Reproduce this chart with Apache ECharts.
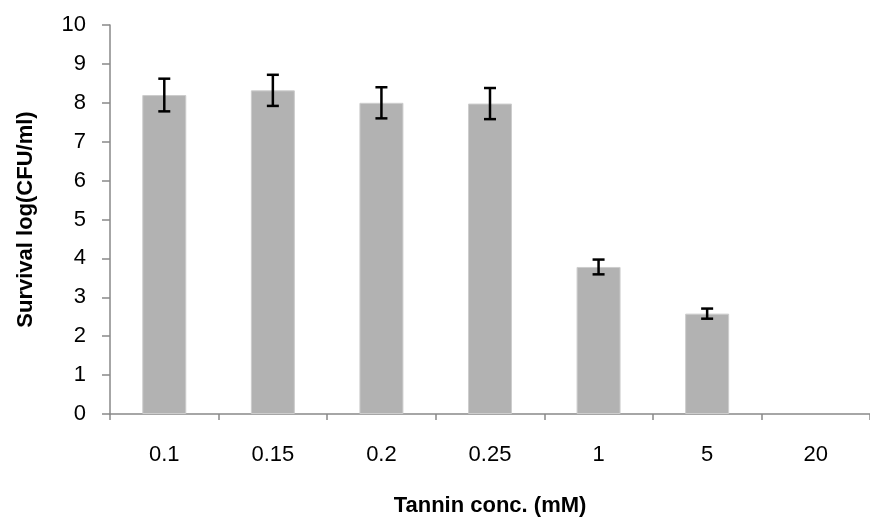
<!DOCTYPE html>
<html>
<head>
<meta charset="utf-8">
<script src="https://cdn.jsdelivr.net/npm/echarts@6/dist/echarts.min.js"></script>
<style>html,body{margin:0;padding:0;background:#fff}#c{width:870px;height:522px}</style>
</head>
<body>
<div id="c"></div>
<script>
var categories = ['0.1', '0.15', '0.2', '0.25', '1', '5', '20'];
var survival = [8.2, 8.32, 8.0, 7.98, 3.78, 2.58, 0];
var errors = [0.42, 0.4, 0.4, 0.4, 0.19, 0.13, 0];
var yTicks = [0, 10, 1];

var chart = echarts.init(document.getElementById('c'));
var font = '"Liberation Sans", Arial, sans-serif';
var errData = survival.map(function (v, i) { return [i, v - errors[i], v + errors[i]]; });
var barData = survival.map(function (v) {
  return v > 0 ? v : { value: v, itemStyle: { borderWidth: 0 } };
});

chart.setOption({
  animation: false,
  grid: { left: 110, top: 25, width: 770, bottom: 104 },
  xAxis: {
    type: 'category',
    data: categories,
    boundaryGap: true,
    name: 'Tannin conc. (mM)',
    nameLocation: 'middle',
    nameGap: 81,
    nameTextStyle: { fontFamily: font, fontSize: 22, fontWeight: 'bold', color: '#000' },
    axisLine: { lineStyle: { color: '#898989', width: 1.5 } },
    axisTick: { show: true, length: 6, lineStyle: { color: '#898989', width: 1.5 } },
    axisLabel: { fontFamily: font, fontSize: 22, color: '#000', margin: 30 }
  },
  yAxis: {
    type: 'value',
    min: yTicks[0], max: yTicks[1], interval: yTicks[2],
    name: 'Survival log(CFU/ml)',
    nameLocation: 'middle',
    nameGap: 73,
    nameTextStyle: { fontFamily: font, fontSize: 22, fontWeight: 'bold', color: '#000' },
    splitLine: { show: false },
    axisLine: { show: true, lineStyle: { color: '#898989', width: 1.5 } },
    axisTick: { show: true, length: 8, lineStyle: { color: '#898989', width: 1.5 } },
    axisLabel: { fontFamily: font, fontSize: 22, color: '#000', margin: 24 }
  },
  series: [
    {
      type: 'bar',
      data: barData,
      barWidth: 44,
      itemStyle: { color: '#b2b2b2', borderColor: '#cdcdcd', borderWidth: 1 }
    },
    {
      type: 'custom',
      data: errData,
      z: 10,
      renderItem: function (params, api) {
        if (errors[api.value(0)] <= 0) return null;
        var lo = api.coord([api.value(0), api.value(1)]);
        var hi = api.coord([api.value(0), api.value(2)]);
        var hw = 6;
        var st = { stroke: '#000', lineWidth: 2.5 };
        return {
          type: 'group',
          children: [
            { type: 'line', shape: { x1: hi[0], y1: hi[1], x2: lo[0], y2: lo[1] }, style: st },
            { type: 'line', shape: { x1: hi[0] - hw, y1: hi[1], x2: hi[0] + hw, y2: hi[1] }, style: st },
            { type: 'line', shape: { x1: lo[0] - hw, y1: lo[1], x2: lo[0] + hw, y2: lo[1] }, style: st }
          ]
        };
      }
    }
  ]
});
</script>
</body>
</html>
